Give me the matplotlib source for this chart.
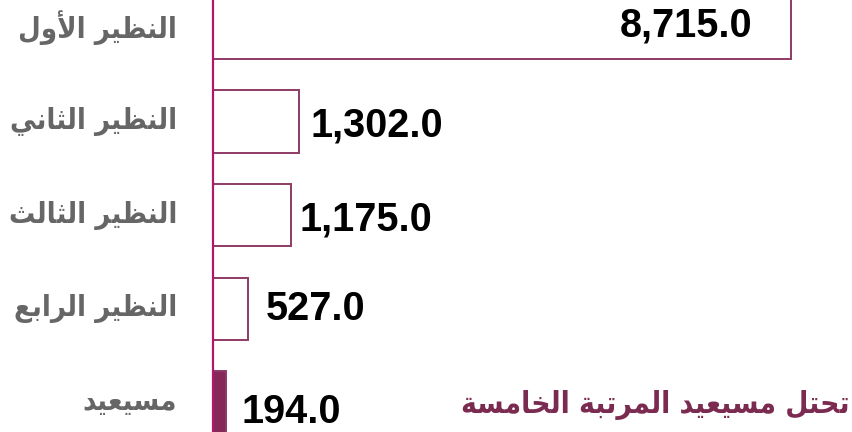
import matplotlib
matplotlib.use("Agg")
import matplotlib.pyplot as plt
from matplotlib import font_manager as fm

categories = ["النظير الأول", "النظير الثاني", "النظير الثالث", "النظير الرابع", "مسيعيد"]
values = [8715.0, 1302.0, 1175.0, 527.0, 194.0]
note = "تحتل مسيعيد المرتبة الخامسة"

# --- minimal Arabic shaping (presentation forms) + RTL reversal ---
FORMS = {  # isolated, final, initial, medial
    "\u0627": ("\uFE8D", "\uFE8E", None, None),
    "\u0623": ("\uFE83", "\uFE84", None, None),
    "\u0628": ("\uFE8F", "\uFE90", "\uFE91", "\uFE92"),
    "\u0629": ("\uFE93", "\uFE94", None, None),
    "\u062A": ("\uFE95", "\uFE96", "\uFE97", "\uFE98"),
    "\u062B": ("\uFE99", "\uFE9A", "\uFE9B", "\uFE9C"),
    "\u062D": ("\uFEA1", "\uFEA2", "\uFEA3", "\uFEA4"),
    "\u062E": ("\uFEA5", "\uFEA6", "\uFEA7", "\uFEA8"),
    "\u062F": ("\uFEA9", "\uFEAA", None, None),
    "\u0631": ("\uFEAD", "\uFEAE", None, None),
    "\u0633": ("\uFEB1", "\uFEB2", "\uFEB3", "\uFEB4"),
    "\u0638": ("\uFEC5", "\uFEC6", "\uFEC7", "\uFEC8"),
    "\u0639": ("\uFEC9", "\uFECA", "\uFECB", "\uFECC"),
    "\u0644": ("\uFEDD", "\uFEDE", "\uFEDF", "\uFEE0"),
    "\u0645": ("\uFEE1", "\uFEE2", "\uFEE3", "\uFEE4"),
    "\u0646": ("\uFEE5", "\uFEE6", "\uFEE7", "\uFEE8"),
    "\u0648": ("\uFEED", "\uFEEE", None, None),
    "\u064A": ("\uFEF1", "\uFEF2", "\uFEF3", "\uFEF4"),
    "\uFEF7": ("\uFEF7", "\uFEF8", None, None),
    "\uFEFB": ("\uFEFB", "\uFEFC", None, None),
}


def dual(c):
    return c in FORMS and FORMS[c][2] is not None


def shape(text):
    text = text.replace("\u0644\u0623", "\uFEF7").replace("\u0644\u0627", "\uFEFB")
    out = []
    n = len(text)
    for i, c in enumerate(text):
        if c not in FORMS:
            out.append(c)
            continue
        prev = text[i - 1] if i > 0 else ""
        nxt = text[i + 1] if i < n - 1 else ""
        jp = dual(prev)
        jn = dual(c) and nxt in FORMS
        iso, fin, ini, med = FORMS[c]
        if jp and jn:
            out.append(med)
        elif jp:
            out.append(fin)
        elif jn:
            out.append(ini)
        else:
            out.append(iso)
    return "".join(out)[::-1]


# pick a condensed bold DejaVu if available
ar_prop = fm.FontProperties(family="DejaVu Sans", weight="bold", stretch="condensed")
ar_path = fm.findfont(ar_prop)
ar_font = fm.FontProperties(fname=ar_path)

W, H = 853, 432
fig = plt.figure(figsize=(W / 100, H / 100), dpi=100)
ax = fig.add_axes([213 / W, 0, 1 - 213 / W, 1])

ypos = list(range(len(values)))
face = ["white", "white", "white", "white", "#862858"]
ax.barh(ypos, values, height=0.665, color=face, edgecolor="#8E3B66", linewidth=1.4, zorder=2)

ax.set_ylim(4.315, -0.299)
ax.set_xlim(0, 9650)
for s in ["top", "right", "bottom"]:
    ax.spines[s].set_visible(False)
ax.spines["left"].set_color("#B0186A")
ax.spines["left"].set_linewidth(1.6)
ax.spines["left"].set_zorder(3)
ax.set_xticks([])
ax.set_yticks([])

lab_font = ["Liberation Sans", "DejaVu Sans"]
dx = [-39, 11, 9, 18, 16]
dy = [-9, -15, -15, -11, -20]
for i, v in enumerate(values):
    ha = "right" if i == 0 else "left"
    ax.annotate(f"{v:,.1f}", xy=(v, i), xytext=(dx[i], dy[i]), textcoords="offset pixels",
                ha=ha, va="baseline", fontsize=28.5, fontweight="bold", color="black",
                family=lab_font, zorder=4)

is_cond = "Condensed" in ar_path
cat_size = 21 if is_cond else 18
note_size = 21.4 if is_cond else 18.5
for i, c in enumerate(categories):
    t = fig.text(177 / W, 1 - (28 + 93.6 * i) / H, shape(c), ha="right", va="center",
                 color="#666666", fontproperties=ar_font)
    t.set_fontsize(cat_size)

t = fig.text(850 / W, 1 - 405 / H, shape(note), ha="right", va="center",
             color="#7B2A50", fontproperties=ar_font)
t.set_fontsize(note_size)

fig.savefig("out.png", dpi=100)
